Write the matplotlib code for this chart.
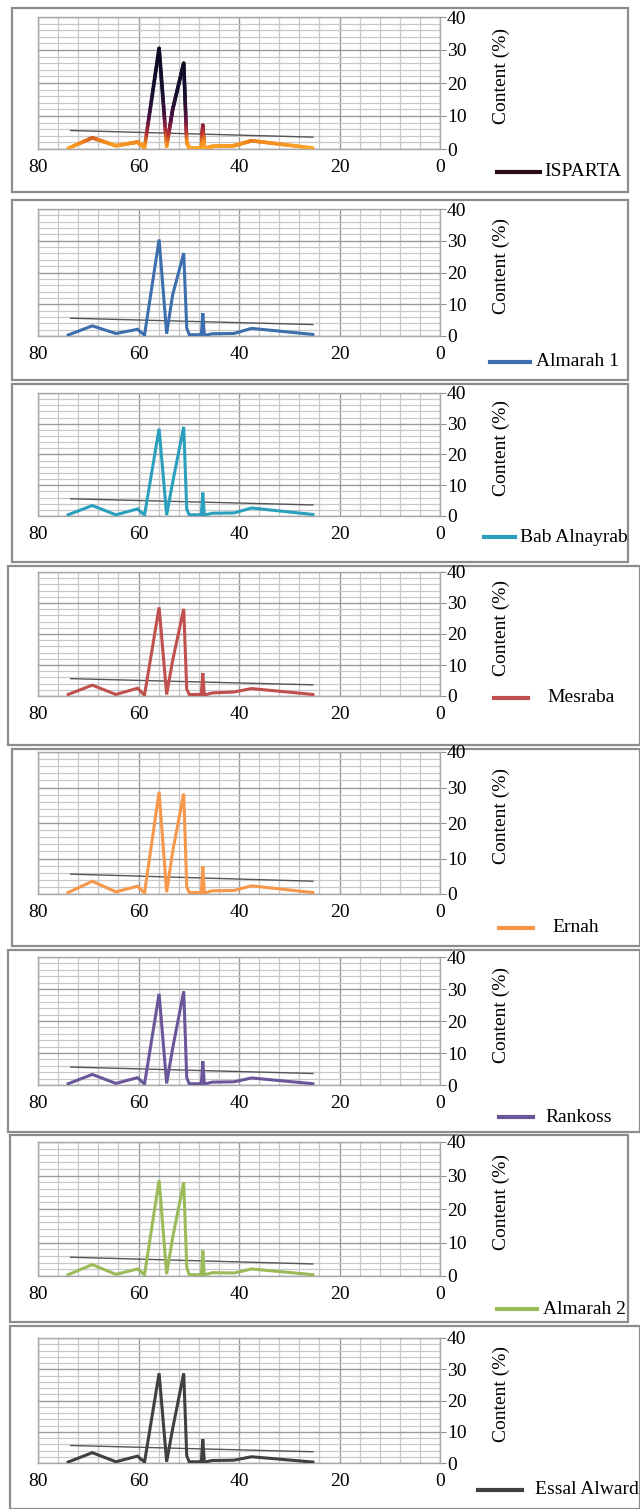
import numpy as np
import matplotlib
matplotlib.use('Agg')
import matplotlib.pyplot as plt
from matplotlib.collections import LineCollection
from matplotlib.colors import LinearSegmentedColormap, Normalize
from matplotlib.patches import Rectangle
from matplotlib.lines import Line2D
from matplotlib.ticker import MultipleLocator

plt.rcParams['font.family'] = ['Liberation Serif', 'DejaVu Serif']

# ---------------- data ----------------
retention = [74.0, 69.2, 64.5, 60.2, 58.8, 55.9, 54.4, 53.2, 51.0, 50.4,
             49.9, 47.5, 47.2, 46.9, 45.3, 41.0, 37.5, 25.3]

isparta      = [0.2, 3.4, 1.0, 2.1, 0.4, 30.5, 0.8, 12.0, 26.0, 2.0, 0.3, 0.3, 7.2, 0.2, 0.8, 1.0, 2.5, 0.3]
almarah1     = [0.3, 3.2, 0.8, 2.1, 0.3, 30.4, 0.7, 13.0, 26.1, 2.5, 0.4, 0.4, 7.2, 0.2, 0.7, 0.8, 2.4, 0.5]
bab_alnayrab = [0.4, 3.4, 0.4, 2.3, 0.3, 28.4, 0.3, 11.0, 29.0, 2.2, 0.4, 0.4, 7.6, 0.3, 0.9, 1.0, 2.6, 0.5]
mesraba      = [0.5, 3.5, 0.5, 2.5, 0.3, 28.6, 0.5, 11.5, 28.1, 2.2, 0.5, 0.5, 7.4, 0.3, 1.0, 1.3, 2.4, 0.5]
ernah        = [0.4, 3.6, 0.6, 2.2, 0.3, 28.8, 0.5, 12.0, 28.3, 2.0, 0.4, 0.4, 7.8, 0.3, 0.9, 1.0, 2.3, 0.4]
rankoss      = [0.4, 3.3, 0.5, 2.3, 0.3, 28.5, 0.5, 11.5, 29.3, 2.3, 0.4, 0.4, 7.4, 0.3, 0.9, 1.0, 2.2, 0.4]
almarah2     = [0.4, 3.4, 0.5, 2.1, 0.4, 28.6, 0.6, 11.5, 28.0, 2.6, 0.4, 0.4, 7.6, 0.3, 1.0, 0.9, 2.1, 0.4]
essal_alward = [0.3, 3.3, 0.4, 2.2, 0.3, 28.7, 0.4, 11.0, 28.7, 2.3, 0.4, 0.4, 7.6, 0.3, 0.8, 0.9, 2.0, 0.3]

trend_x = [73.5, 25.3]
trend_y = [5.6, 3.6]

series_names = ['ISPARTA', 'Almarah 1', 'Bab Alnayrab', 'Mesraba',
                'Ernah', 'Rankoss', 'Almarah 2', 'Essal Alward']
series_values = [isparta, almarah1, bab_alnayrab, mesraba,
                 ernah, rankoss, almarah2, essal_alward]
series_colors = [None, '#3d6ead', '#2aa0be', '#c0504d',
                 '#f7974a', '#6a579a', '#9bbb59', '#404040']

x_ticks = [80, 60, 40, 20, 0]
y_ticks = [0, 10, 20, 30, 40]

# ---------------- layout (pixels) ----------------
W, H = 640, 1509
# box: (x0, y0, x1, y1) ; plot: (top, bottom) ; legend: (y, line_x0, line_x1, text_x)
layout = [
    dict(box=(12, 8, 628, 192),    plot=(17, 149),    leg=(172, 497, 540, 544)),
    dict(box=(12, 200, 628, 380),  plot=(209, 336),   leg=(362, 490, 530, 536)),
    dict(box=(12, 384, 628, 562),  plot=(393, 516),   leg=(537, 484, 515, 520)),
    dict(box=(8, 566, 640, 745),   plot=(572, 696),   leg=(698, 494, 528, 547)),
    dict(box=(12, 749, 640, 946),  plot=(752, 894),   leg=(928, 499, 533, 552)),
    dict(box=(8, 950, 640, 1132),  plot=(957, 1085),  leg=(1117, 499, 533, 545)),
    dict(box=(10, 1135, 628, 1322), plot=(1142, 1276), leg=(1309, 497, 537, 543)),
    dict(box=(10, 1326, 640, 1509), plot=(1338, 1463), leg=(1490, 478, 522, 535)),
]
AX_L, AX_R = 38, 440
FS = 14

fig = plt.figure(figsize=(W / 100, H / 100), dpi=100)
fig.patch.set_facecolor('white')

cmap = LinearSegmentedColormap.from_list(
    'isp', [(0.0, '#ffab2e'), (0.07, '#f08a1e'), (0.16, '#b83038'),
            (0.32, '#4a1040'), (0.55, '#151030'), (1.0, '#0a0a20')])


def gradient_line(ax, xs, ys, lw):
    xs = np.asarray(xs, float)
    ys = np.asarray(ys, float)
    segs, vals = [], []
    for i in range(len(xs) - 1):
        t = np.linspace(0, 1, 40)
        px = xs[i] + (xs[i + 1] - xs[i]) * t
        py = ys[i] + (ys[i + 1] - ys[i]) * t
        pts = np.column_stack([px, py])
        for j in range(len(t) - 1):
            segs.append(pts[j:j + 2])
            vals.append((py[j] + py[j + 1]) / 2)
    lc = LineCollection(segs, cmap=cmap, norm=Normalize(0, 30), linewidths=lw,
                        capstyle='round', joinstyle='round', zorder=3)
    lc.set_array(np.array(vals))
    ax.add_collection(lc)


for name, vals, col, lay in zip(series_names, series_values, series_colors, layout):
    bx0, by0, bx1, by1 = lay['box']
    fig.add_artist(Rectangle((bx0 / W, 1 - by1 / H), (bx1 - bx0) / W, (by1 - by0) / H,
                             transform=fig.transFigure, fill=False,
                             edgecolor='#8c8c8c', linewidth=1.6, zorder=0))
    top, bot = lay['plot']
    ax = fig.add_axes([AX_L / W, 1 - bot / H, (AX_R - AX_L) / W, (bot - top) / H])
    ax.set_xlim(80, 0)
    ax.set_ylim(0, 40)
    ax.set_xticks(x_ticks)
    ax.set_xticklabels([str(v) for v in x_ticks])
    ax.xaxis.set_minor_locator(MultipleLocator(4))
    ax.set_yticks(y_ticks)
    ax.set_yticklabels([str(v) for v in y_ticks])
    ax.yaxis.set_minor_locator(MultipleLocator(2))
    ax.yaxis.tick_right()
    ax.yaxis.set_label_position('right')
    ax.tick_params(axis='x', which='both', length=0, pad=7, labelsize=FS)
    ax.tick_params(axis='y', which='major', length=4, width=0.8, color='#909090',
                   pad=1, labelsize=FS, direction='out')
    ax.tick_params(axis='y', which='minor', length=0)
    ax.grid(which='major', color='#9a9a9a', linewidth=1.0)
    ax.grid(which='minor', color='#c8c8c8', linewidth=0.9)
    ax.set_axisbelow(True)
    for s in ax.spines.values():
        s.set_color('#a8a8a8')
        s.set_linewidth(1.0)
    ax.set_ylabel('Content (%)', fontsize=FS, rotation=90)
    ax.yaxis.set_label_coords((493 - AX_L) / (AX_R - AX_L), 0.55)
    ax.patch.set_alpha(0)

    ax.plot(trend_x, trend_y, color='#555555', linewidth=1.0, zorder=2)
    if col is None:
        gradient_line(ax, retention, vals, 2.6)
        leg_col = '#2a0c12'
    else:
        ax.plot(retention, vals, color=col, linewidth=2.2, zorder=3,
                solid_joinstyle='miter')
        leg_col = col

    ly, lx0, lx1, tx = lay['leg']
    fig.add_artist(Line2D([lx0 / W, lx1 / W], [1 - ly / H, 1 - ly / H],
                          transform=fig.transFigure, color=leg_col, linewidth=3.0))
    fig.text(tx / W, 1 - ly / H, name, fontsize=FS, va='center', ha='left')

fig.savefig('out.png', dpi=100, facecolor='white')
